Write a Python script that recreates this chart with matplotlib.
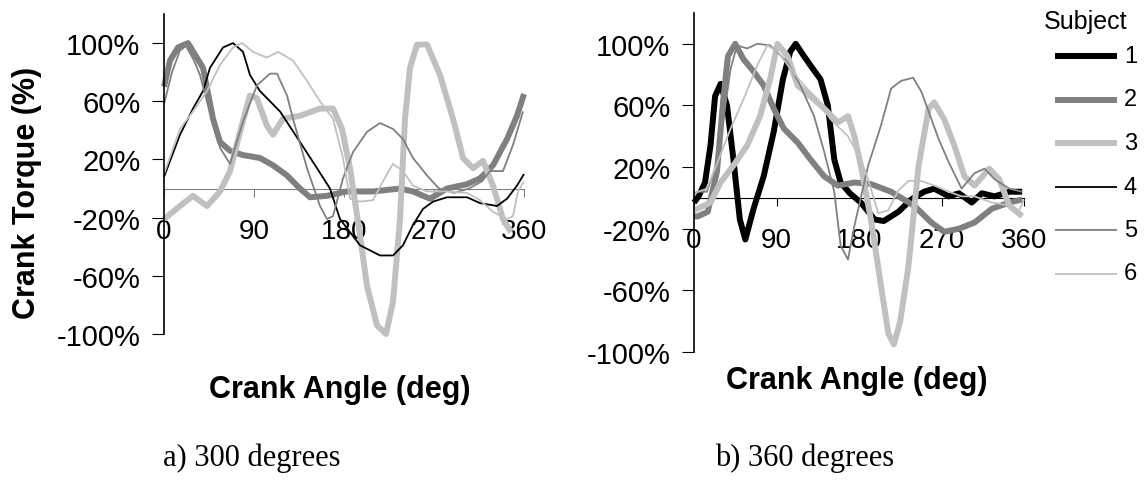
import matplotlib
matplotlib.use("Agg")
import matplotlib.pyplot as plt
from matplotlib.lines import Line2D

plt.rcParams['font.family'] = ['Liberation Sans', 'DejaVu Sans']

# crank torque traces, 300 degree condition (angle in deg, torque in % of peak)
a_s2_x = [0, 6, 14, 24, 39, 49, 56, 66, 79, 96, 109, 123, 136, 146, 163, 183, 209, 236, 249, 266, 283, 303, 316, 329, 343, 353, 360]
a_s2_y = [70, 88, 97, 100, 83, 48, 32, 26, 23, 21, 16, 9, 0, -6, -5, -2, -2, 0, -2, -7, 0, 3, 7, 16, 34, 50, 65]
a_s3_x = [0, 16, 29, 43, 56, 66, 76, 86, 93, 103, 109, 119, 136, 156, 169, 178, 186, 196, 203, 213, 222, 229, 236, 241, 246, 253, 263, 276, 289, 299, 309, 319, 329, 339, 347]
a_s3_y = [-21, -12, -5, -12, -2, 12, 39, 64, 62, 43, 37, 48, 50, 55, 55, 41, 14, -32, -67, -94, -100, -78, -21, 48, 83, 99, 99, 78, 48, 21, 14, 19, 2, -21, -30]
a_s4_x = [0, 16, 29, 39, 46, 59, 69, 79, 86, 96, 116, 136, 153, 166, 176, 196, 216, 229, 239, 249, 259, 269, 283, 303, 316, 333, 343, 353, 360]
a_s4_y = [8, 37, 55, 67, 83, 97, 100, 94, 78, 67, 53, 32, 14, 0, -21, -39, -46, -46, -39, -25, -14, -9, -6, -6, -10, -12, -7, 2, 10]
a_s5_x = [0, 8, 16, 22, 30, 36, 46, 56, 66, 79, 93, 106, 113, 123, 129, 143, 156, 163, 169, 179, 189, 203, 216, 229, 239, 249, 263, 275, 290, 305, 318, 326, 339, 349, 359]
a_s5_y = [58, 80, 95, 98, 88, 78, 52, 28, 17, 46, 71, 79, 79, 64, 48, 14, -12, -21, -19, 7, 25, 39, 45, 41, 34, 21, 9, 0, -3, 0, 5, 12, 12, 30, 53]
a_s6_x = [0, 16, 29, 43, 56, 69, 78, 89, 103, 114, 129, 143, 156, 169, 179, 186, 196, 209, 219, 229, 239, 249, 263, 283, 303, 316, 329, 343, 349, 354, 360]
a_s6_y = [10, 41, 53, 67, 85, 97, 100, 94, 90, 94, 88, 74, 60, 48, 21, -7, -9, -8, 5, 17, 12, 2, -2, -2, -3, -8, -16, -21, -19, -2, 5]

# crank torque traces, 360 degree condition
b_s1_x = [0, 5, 12, 18, 23, 29, 36, 43, 50, 56, 65, 76, 87, 97, 105, 111, 120, 127, 138, 146, 153, 160, 170, 182, 197, 207, 223, 237, 251, 262, 278, 289, 303, 314, 328, 344, 358]
b_s1_y = [-3, 1, 10, 34, 66, 74, 60, 25, -14, -27, -7, 14, 43, 77, 95, 100, 92, 86, 77, 60, 25, 10, 3, -3, -14, -15, -9, -1, 4, 6, 1, 3, -3, 3, 1, 4, 4]
b_s2_x = [0, 4, 15, 25, 32, 37, 45, 54, 65, 76, 87, 98, 113, 127, 142, 157, 175, 193, 215, 240, 259, 273, 289, 306, 325, 344, 358]
b_s2_y = [-12, -12, -9, 17, 64, 92, 100, 90, 82, 73, 58, 45, 36, 25, 14, 8, 10, 9, 4, -5, -16, -22, -20, -16, -7, -3, -1]
b_s3_x = [0, 4, 18, 29, 43, 58, 72, 83, 91, 102, 113, 127, 142, 157, 168, 175, 182, 193, 204, 212, 218, 225, 234, 245, 256, 262, 273, 284, 295, 306, 322, 333, 344, 358]
b_s3_y = [-8, -7, -3, 10, 21, 34, 53, 77, 100, 92, 73, 66, 58, 49, 53, 40, 21, -14, -57, -88, -95, -80, -44, 21, 58, 62, 51, 34, 14, 8, 19, 12, -5, -12]
b_s5_x = [0, 4, 14, 25, 32, 40, 47, 58, 69, 83, 102, 116, 131, 142, 153, 160, 168, 175, 190, 204, 215, 226, 239, 248, 256, 267, 278, 292, 306, 317, 328, 344, 358]
b_s5_y = [3, 4, 4, 23, 51, 84, 99, 97, 100, 99, 88, 73, 53, 30, 4, -31, -40, -18, 21, 47, 71, 76, 78, 69, 56, 38, 23, 6, 16, 19, 12, 6, 4]
b_s6_x = [0, 4, 14, 25, 40, 54, 69, 80, 91, 105, 120, 135, 149, 168, 182, 190, 201, 212, 223, 234, 248, 262, 278, 292, 306, 325, 344, 354, 360]
b_s6_y = [2, 4, 6, 22, 45, 64, 86, 99, 95, 84, 73, 64, 51, 40, 25, 12, -10, -8, 5, 11, 11, 8, 4, 1, 1, -3, -5, -9, -1]

subjects = ['1', '2', '3', '4', '5', '6']
x_ticks = [0, 90, 180, 270, 360]
y_ticks = [-100, -60, -20, 20, 60, 100]

# line style for each subject: colour, width
styles = {
    '1': ('#000000', 4.3),
    '2': ('#808080', 4.3),
    '3': ('#c0c0c0', 4.3),
    '4': ('#000000', 1.3),
    '5': ('#808080', 1.3),
    '6': ('#c0c0c0', 1.3),
}

panel_a = {'2': (a_s2_x, a_s2_y), '3': (a_s3_x, a_s3_y), '4': (a_s4_x, a_s4_y),
           '5': (a_s5_x, a_s5_y), '6': (a_s6_x, a_s6_y)}
panel_b = {'1': (b_s1_x, b_s1_y), '2': (b_s2_x, b_s2_y), '3': (b_s3_x, b_s3_y),
           '5': (b_s5_x, b_s5_y), '6': (b_s6_x, b_s6_y)}

W, H = 1147, 481
fig = plt.figure(figsize=(W / 100, H / 100), dpi=100)
ax1 = fig.add_axes([164 / W, (H - 335) / H, 360 / W, 320 / H])
ax2 = fig.add_axes([694 / W, (H - 353) / H, 330 / W, 339 / H])


def setup(ax, traces, axis_color):
    for s in subjects:
        if s in traces:
            c, lw = styles[s]
            ax.plot(traces[s][0], traces[s][1], color=c, lw=lw, clip_on=False,
                    solid_joinstyle='round', solid_capstyle='butt')
    ax.set_xlim(0, 360)
    ax.set_ylim(-100, 120)
    ax.spines['top'].set_visible(False)
    ax.spines['right'].set_visible(False)
    ax.spines['bottom'].set_position(('data', 0))
    ax.spines['bottom'].set_color(axis_color)
    ax.spines['bottom'].set_zorder(0.5)
    ax.spines['left'].set_linewidth(1.2)
    ax.set_xticks(x_ticks)
    ax.set_yticks(y_ticks)
    ax.set_yticklabels([f'{v}%' for v in y_ticks])
    ax.tick_params(axis='x', direction='out', length=6, pad=15, labelsize=20,
                   color=axis_color)
    ax.tick_params(axis='y', direction='out', length=9, pad=8, labelsize=21)
    ax.patch.set_visible(False)


setup(ax1, panel_a, '#808080')
setup(ax2, panel_b, '#000000')

fig.text(27 / W, 1 - 193 / H, 'Crank Torque (%)', rotation=90, fontsize=22,
         fontweight='bold', ha='center', va='center')
fig.text(340 / W, 1 - 390 / H, 'Crank Angle (deg)', fontsize=22,
         fontweight='bold', ha='center', va='center')
fig.text(857 / W, 1 - 381 / H, 'Crank Angle (deg)', fontsize=22,
         fontweight='bold', ha='center', va='center')

fig.text(252 / W, 1 - 458 / H, 'a) 300 degrees', fontsize=22,
         family='Liberation Serif', ha='center', va='center')
fig.text(805 / W, 1 - 458 / H, 'b) 360 degrees', fontsize=22,
         family='Liberation Serif', ha='center', va='center')

# legend
fig.text(1086 / W, 1 - 22 / H, 'Subject', fontsize=18, ha='center', va='center')
for i, s in enumerate(subjects):
    y = 1 - (57 + i * 43.5) / H
    c, lw = styles[s]
    fig.add_artist(Line2D([1055 / W, 1117 / W], [y, y], color=c, lw=lw,
                          transform=fig.transFigure, solid_capstyle='butt'))
    fig.text(1124 / W, y, s, fontsize=17, ha='left', va='center')

fig.savefig('out.png', dpi=100)
